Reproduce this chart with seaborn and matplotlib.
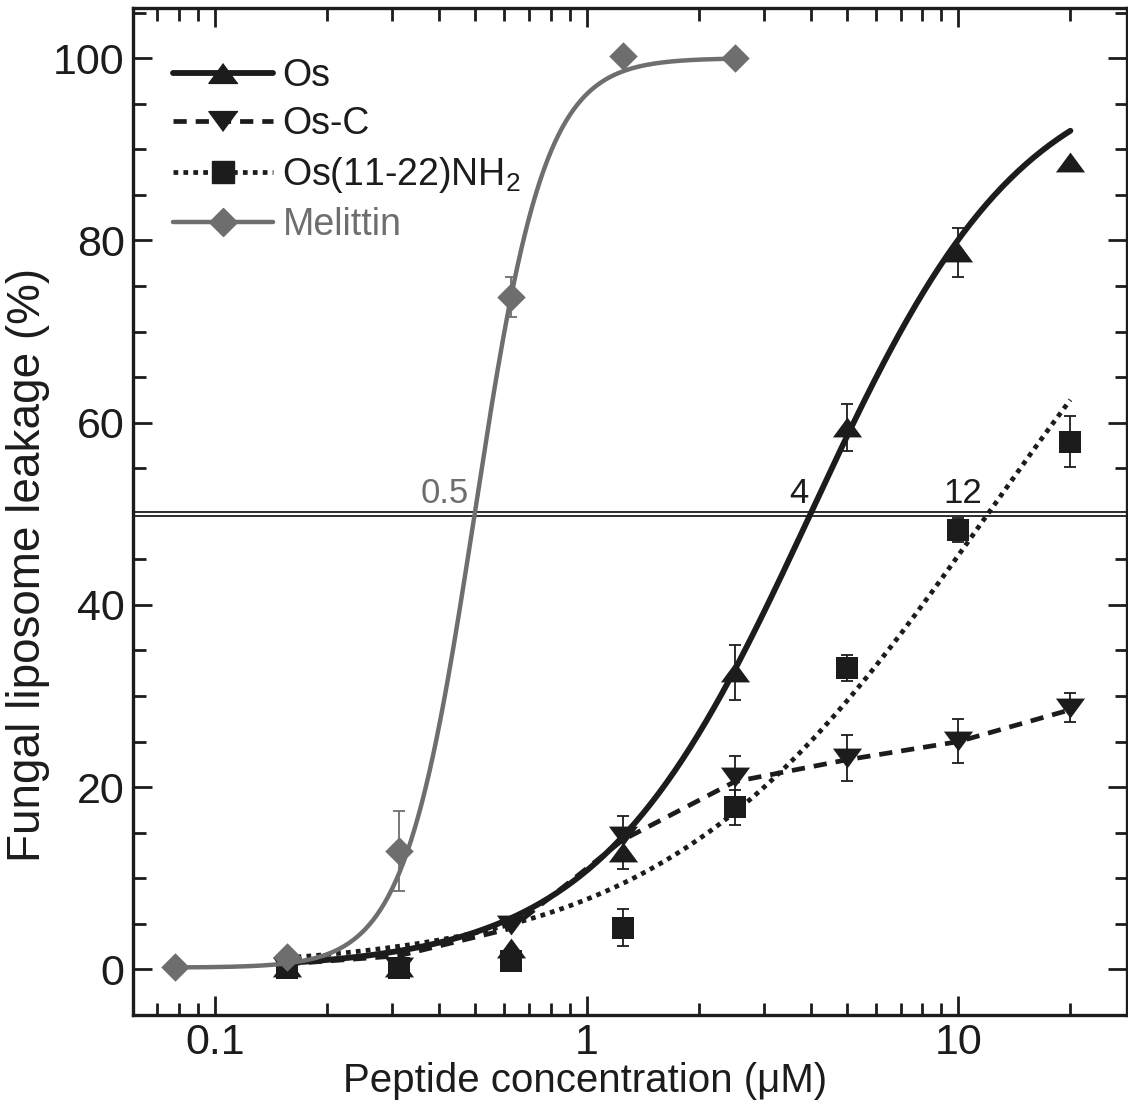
import numpy as np
import pandas as pd
import matplotlib
matplotlib.use("Agg")
import matplotlib.pyplot as plt
import seaborn as sns
from matplotlib.lines import Line2D
from matplotlib.ticker import MultipleLocator, LogLocator, NullFormatter

# ---------------- data ----------------
conc = [0.078, 0.156, 0.3125, 0.625, 1.25, 2.5, 5, 10, 20]

os_x = [0.156, 0.3125, 0.625, 1.25, 2.5, 5, 10, 20]
os_y = [0.3, 0.3, 2.4, 12.9, 32.6, 59.5, 78.7, 88.6]
os_err = [0, 0, 0, 1.9, 3.0, 2.6, 2.7, 0]

osc_x = [0.156, 0.3125, 0.625, 1.25, 2.5, 5, 10, 20]
osc_y = [0.3, 0.3, 4.9, 14.6, 21.1, 23.2, 25.1, 28.7]
osc_err = [0, 0, 0, 2.2, 2.3, 2.5, 2.4, 1.6]
osc_line_y = [0.6, 1.5, 4.5, 14.2, 20.6, 23.0, 25.0, 28.5]

os1122_x = [0.156, 0.3125, 0.625, 1.25, 2.5, 5, 10, 20]
os1122_y = [0.2, 0.2, 0.9, 4.6, 17.8, 33.1, 48.2, 57.9]
os1122_err = [0, 0, 0, 2.0, 1.9, 1.4, 1.3, 2.8]

mel_x = [0.078, 0.156, 0.3125, 0.625, 1.25, 2.5]
mel_y = [0.3, 1.4, 13.0, 73.8, 100.2, 100.0]
mel_err = [0, 0, 4.4, 2.2, 0, 0]

# dose-response fit parameters (bottom, top, EC50, Hill slope, x range)
os_fit = [0.0, 100.0, 4.0, 1.52, 0.156, 20]
os1122_fit = [0.0, 100.0, 12.0, 1.0, 0.156, 20]
mel_fit = [0.2, 100.0, 0.5, 4.6, 0.078, 2.5]

ec50_labels = ["0.5", "4", "12"]
ec50_values = [0.5, 4.0, 12.0]

series_names = ["Os", "Os-C", "Os(11-22)NH$_2$", "Melittin"]

# ---------------- style ----------------
sns.set_theme(style="ticks")
plt.rcParams["font.family"] = ["Liberation Sans", "DejaVu Sans"]
plt.rcParams["mathtext.default"] = "regular"

BLACK = "#1c1c1c"
GRAY = "#6e6e6e"

tri_up = [(0, 0.68), (-1, -0.68), (1, -0.68)]
tri_dn = [(0, -0.68), (-1, 0.68), (1, 0.68)]
MS_TRI = 21
MS_SQ = 15.5
MS_DIA = 14.5

fig = plt.figure(figsize=(11.28, 11.14), dpi=100)
ax = fig.add_axes([133 / 1128, 1 - 1015 / 1114, (1127 - 133) / 1128, (1015 - 8) / 1114])


def hill(p, n=300):
    b, t, ec, h, x0, x1 = p
    xs = np.geomspace(x0, x1, n)
    return pd.DataFrame({"x": xs, "y": b + (t - b) / (1 + (ec / xs) ** h)})


# 50 % reference double line
ax.axhline(50, color=BLACK, lw=4.2, zorder=1)
ax.axhline(50, color="white", lw=1.6, zorder=1.1)

# fit curves
d = hill(os_fit)
sns.lineplot(data=d, x="x", y="y", ax=ax, color=BLACK, lw=4.2, zorder=3,
             estimator=None, sort=False)
d = hill(os1122_fit)
sns.lineplot(data=d, x="x", y="y", ax=ax, color=BLACK, lw=3.4, zorder=3,
             estimator=None, sort=False, linestyle=(0, (1.0, 1.1)), dash_capstyle="butt")
sns.lineplot(x=osc_x, y=osc_line_y, ax=ax, color=BLACK, lw=3.4, zorder=3,
             estimator=None, sort=False, linestyle=(0, (2.8, 1.9)), dash_capstyle="butt")


def errs(x, y, e, color, z):
    x = np.array(x); y = np.array(y); e = np.array(e)
    m = e > 0
    ax.errorbar(x[m], y[m], yerr=e[m], fmt="none", ecolor=color, elinewidth=1.3,
                capsize=4.6, capthick=1.3, zorder=z)


errs(os_x, os_y, os_err, BLACK, 4)
errs(osc_x, osc_y, osc_err, BLACK, 4)
errs(os1122_x, os1122_y, os1122_err, BLACK, 4)

sns.scatterplot(x=os1122_x, y=os1122_y, ax=ax, marker="s", s=MS_SQ ** 2, color=BLACK,
                linewidth=0, zorder=5)
sns.scatterplot(x=osc_x, y=osc_y, ax=ax, marker=tri_dn, s=MS_TRI ** 2, color=BLACK,
                linewidth=0, zorder=5)
sns.scatterplot(x=os_x, y=os_y, ax=ax, marker=tri_up, s=MS_TRI ** 2, color=BLACK,
                linewidth=0, zorder=5)

# melittin on top
d = hill(mel_fit)
errs(mel_x, mel_y, mel_err, GRAY, 6)
sns.lineplot(data=d, x="x", y="y", ax=ax, color=GRAY, lw=3.2, zorder=6,
             estimator=None, sort=False)
sns.scatterplot(x=mel_x, y=mel_y, ax=ax, marker="D", s=MS_DIA ** 2, color=GRAY,
                linewidth=0, zorder=7)

# EC50 labels
for lab, v, c, f in zip(ec50_labels, ec50_values, [GRAY, BLACK, BLACK], [0.965, 0.985, 0.965]):
    ax.text(v * f, 51.2, lab, ha="right", va="baseline", fontsize=25, color=c, zorder=8)

# axes
ax.set_xscale("log")
ax.set_xlim(0.0602, 28.4)
ax.set_ylim(-5, 105.5)
ax.set_xticks([0.1, 1, 10], labels=["0.1", "1", "10"])
ax.xaxis.set_minor_locator(LogLocator(base=10, subs=np.arange(2, 10)))
ax.xaxis.set_minor_formatter(NullFormatter())
ax.yaxis.set_major_locator(MultipleLocator(20))
ax.yaxis.set_minor_locator(MultipleLocator(5))
ax.tick_params(which="both", direction="in", top=True, right=True, width=2.0,
               color=BLACK, labelsize=31, labelcolor=BLACK)
ax.tick_params(which="major", length=14, pad=6)
ax.tick_params(which="minor", length=9)
for sp in ax.spines.values():
    sp.set_linewidth(2.4)
    sp.set_color(BLACK)

ax.set_xlabel("Peptide concentration (\u03bcM)", fontsize=29, color=BLACK)
ax.set_ylabel("Fungal liposome leakage (%)", fontsize=33, color=BLACK)
ax.xaxis.set_label_coords((586 - 133) / 995, (1015 - 1062) / 1007)
ax.yaxis.set_label_coords((50 - 133) / 995, (1015 - 565) / 1007)

# legend
handles = [
    Line2D([], [], color=BLACK, lw=4.2, marker=tri_up, markersize=MS_TRI),
    Line2D([], [], color=BLACK, lw=3.4, ls=(0, (2.8, 1.9)), marker=tri_dn, markersize=MS_TRI),
    Line2D([], [], color=BLACK, lw=3.4, ls=(0, (1.0, 1.1)), marker="s", markersize=MS_SQ),
    Line2D([], [], color=GRAY, lw=3.2, marker="D", markersize=MS_DIA),
]
leg = ax.legend(handles, series_names, loc="upper left",
                bbox_to_anchor=((173 - 133) / 995, (1015 - 58) / 1007),
                frameon=False, fontsize=27, handlelength=2.67, handletextpad=0.25,
                labelspacing=0.33, borderpad=0, borderaxespad=0)
for t, c in zip(leg.get_texts(), [BLACK, BLACK, BLACK, GRAY]):
    t.set_color(c)

fig.savefig("out.png", dpi=100, facecolor="white")
